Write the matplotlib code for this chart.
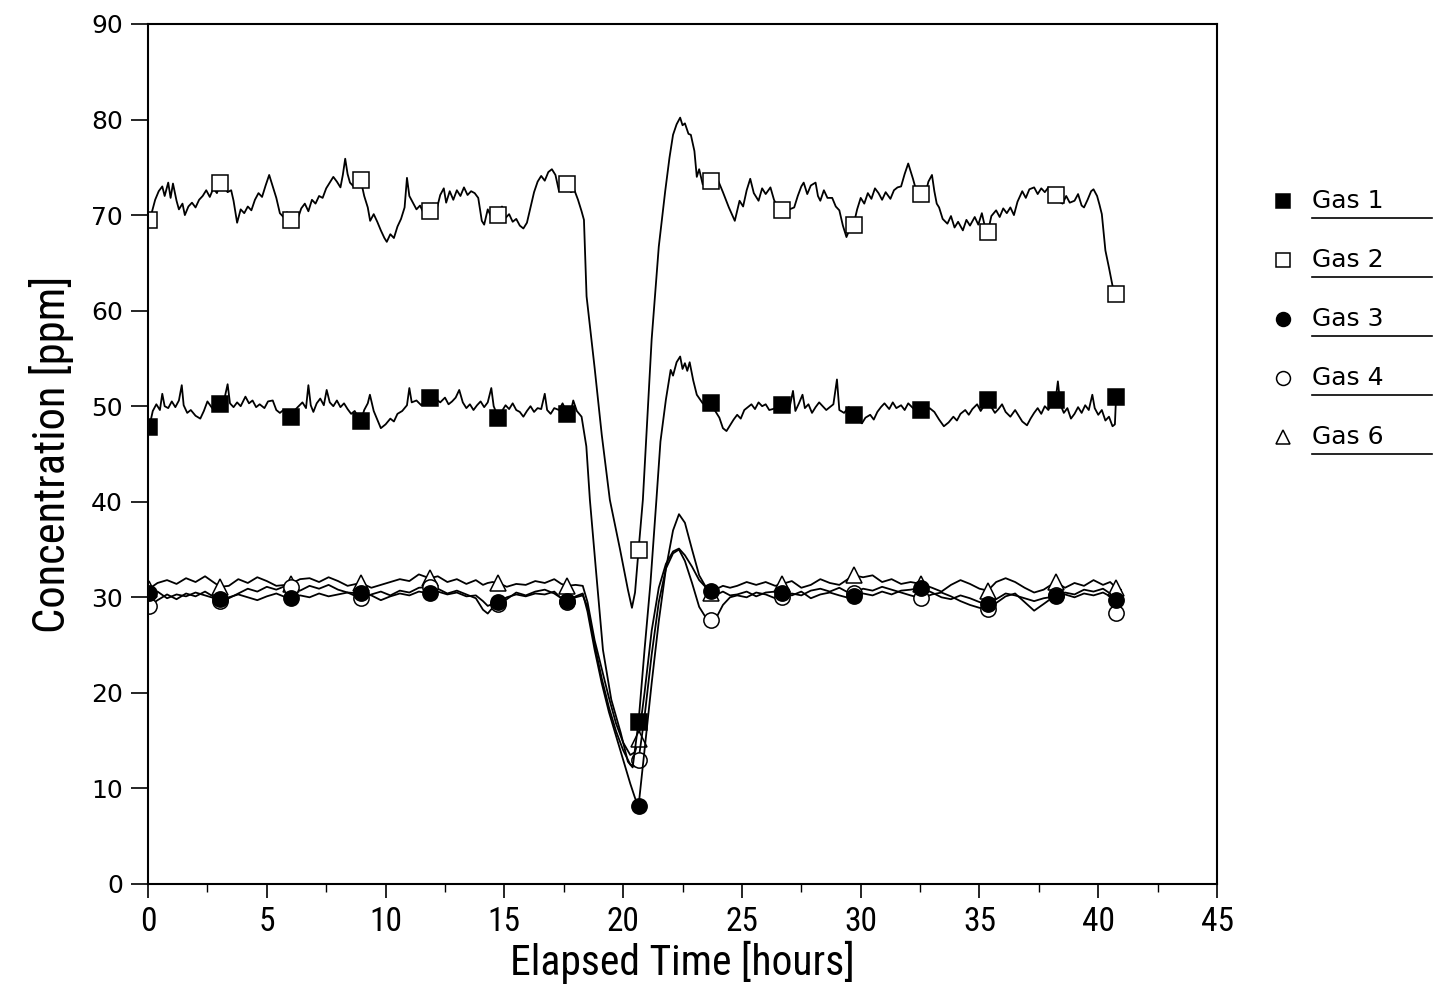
import matplotlib
matplotlib.use('Agg')
import matplotlib.pyplot as plt
from matplotlib.lines import Line2D
from matplotlib import font_manager
import numpy as np

# times (hours) where the symbols sit on every curve
MARK_T = [0.05, 3.05, 6.0, 8.95, 11.85, 14.75, 17.65, 20.65, 23.7, 26.7,
          29.7, 32.55, 35.35, 38.2, 40.75]

# Gas 1 (t, ppm)
gas1 = [
    (0.05, 47.8), (0.2, 49.5), (0.35, 50.2), (0.5, 49.6), (0.6, 51.3), (0.7, 50.0), (0.85, 49.8),
    (1.0, 50.5), (1.15, 49.9), (1.3, 50.6), (1.42, 52.2), (1.5, 50.1), (1.65, 49.3), (1.8, 49.6),
    (2.0, 49.0), (2.2, 48.7), (2.35, 49.5), (2.5, 50.5), (2.7, 49.8), (2.9, 50.4), (3.05, 50.2),
    (3.2, 50.6), (3.35, 52.3), (3.45, 50.3), (3.6, 49.9), (3.75, 50.4), (3.9, 50.0), (4.1, 51.0),
    (4.25, 50.3), (4.4, 50.6), (4.55, 49.9), (4.7, 50.2), (4.9, 49.8), (5.05, 50.5), (5.25, 50.6),
    (5.4, 49.6), (5.55, 49.3), (5.7, 49.6), (5.85, 49.1), (6.0, 48.9), (6.15, 49.5), (6.3, 49.9),
    (6.5, 50.4), (6.65, 49.8), (6.75, 52.2), (6.85, 50.1), (6.96, 49.4), (7.1, 50.3), (7.25, 50.8),
    (7.4, 50.1), (7.52, 51.7), (7.65, 50.4), (7.8, 50.0), (7.95, 50.6), (8.1, 49.9), (8.25, 50.3),
    (8.4, 49.7), (8.55, 49.2), (8.7, 49.5), (8.95, 48.4), (9.1, 49.6), (9.25, 50.3), (9.34, 51.2),
    (9.5, 49.5), (9.65, 48.6), (9.8, 47.7), (10.0, 48.1), (10.2, 48.7), (10.35, 48.4), (10.5, 49.2),
    (10.7, 49.5), (10.9, 50.1), (11.0, 51.9), (11.1, 50.4), (11.3, 50.6), (11.5, 50.1), (11.7, 50.8),
    (11.85, 50.9), (12.0, 50.3), (12.15, 50.7), (12.3, 50.4), (12.5, 50.9), (12.65, 50.2), (12.8, 50.5),
    (12.95, 50.9), (13.1, 51.7), (13.25, 50.4), (13.4, 49.8), (13.55, 50.2), (13.7, 49.6), (13.85, 50.1),
    (14.0, 50.5), (14.15, 49.9), (14.3, 50.4), (14.45, 51.9), (14.55, 50.0), (14.75, 48.8), (14.9, 49.5),
    (15.05, 50.1), (15.2, 49.7), (15.35, 50.3), (15.5, 49.6), (15.65, 49.4), (15.8, 48.9), (15.95, 49.5),
    (16.1, 50.0), (16.25, 49.4), (16.4, 49.8), (16.55, 49.7), (16.7, 51.3), (16.8, 49.6), (16.95, 49.2),
    (17.1, 49.8), (17.3, 49.6), (17.45, 50.3), (17.65, 49.2), (17.8, 49.5), (17.9, 50.6), (18.05, 49.5),
    (18.25, 48.9), (18.45, 45.8), (18.6, 40.2), (18.85, 33.0), (19.15, 24.5), (19.5, 19.3), (19.9, 15.8),
    (20.2, 12.8), (20.4, 12.2), (20.65, 17.0), (20.9, 24.5), (21.15, 31.5), (21.4, 40.2), (21.57, 46.3),
    (21.8, 50.7), (22.0, 53.8), (22.1, 53.2), (22.25, 54.6), (22.4, 55.2), (22.5, 53.9), (22.6, 54.5),
    (22.7, 53.7), (22.8, 54.6), (22.95, 52.7), (23.1, 51.2), (23.35, 50.3), (23.55, 50.1), (23.7, 50.3),
    (23.85, 49.6), (24.05, 48.8), (24.2, 47.7), (24.35, 47.4), (24.5, 48.0), (24.65, 48.6), (24.8, 49.1),
    (24.95, 48.7), (25.1, 49.6), (25.25, 49.9), (25.4, 50.2), (25.55, 49.7), (25.7, 50.4), (25.85, 50.0),
    (26.0, 50.2), (26.15, 49.6), (26.3, 49.7), (26.5, 49.9), (26.7, 50.1), (26.85, 50.5), (27.0, 49.8),
    (27.15, 51.6), (27.25, 49.5), (27.4, 50.3), (27.55, 51.2), (27.65, 49.8), (27.8, 50.2), (27.95, 49.3),
    (28.1, 49.9), (28.25, 50.4), (28.4, 50.0), (28.55, 49.6), (28.7, 49.9), (28.85, 50.2), (29.0, 52.8),
    (29.1, 49.6), (29.3, 49.3), (29.5, 49.9), (29.7, 49.1), (29.9, 48.7), (30.05, 48.2), (30.2, 48.8),
    (30.4, 49.1), (30.55, 48.6), (30.7, 49.4), (30.85, 49.9), (31.0, 50.3), (31.2, 49.7), (31.35, 50.4),
    (31.5, 49.8), (31.7, 50.1), (31.85, 49.6), (32.0, 50.3), (32.2, 49.8), (32.4, 50.0), (32.55, 49.6),
    (32.7, 49.3), (32.9, 49.8), (33.1, 49.4), (33.3, 48.6), (33.5, 47.9), (33.7, 48.3), (33.9, 48.9),
    (34.05, 48.5), (34.2, 49.2), (34.4, 49.6), (34.55, 49.1), (34.7, 49.7), (34.9, 50.2), (35.05, 49.5),
    (35.2, 50.1), (35.35, 50.6), (35.5, 49.9), (35.65, 49.3), (35.8, 49.7), (35.95, 50.2), (36.1, 49.4),
    (36.3, 48.9), (36.5, 49.6), (36.65, 49.0), (36.8, 48.4), (37.0, 48.0), (37.15, 48.7), (37.3, 49.3),
    (37.45, 49.8), (37.6, 49.2), (37.75, 50.0), (37.9, 49.6), (38.05, 50.4), (38.2, 50.6), (38.3, 52.6),
    (38.4, 50.2), (38.55, 49.3), (38.7, 49.8), (38.85, 48.7), (39.0, 49.2), (39.15, 49.9), (39.3, 49.3),
    (39.45, 50.1), (39.6, 49.6), (39.75, 51.2), (39.85, 49.8), (40.0, 49.1), (40.15, 49.6), (40.3, 48.5),
    (40.45, 48.9), (40.6, 47.9), (40.7, 48.1), (40.75, 51.0),
]

# Gas 2 (t, ppm)
gas2 = [
    (0.05, 69.5), (0.15, 70.2), (0.3, 71.6), (0.45, 72.5), (0.6, 73.0), (0.7, 72.0), (0.85, 73.4),
    (0.95, 71.8), (1.05, 73.3), (1.2, 71.5), (1.3, 70.6), (1.45, 71.2), (1.55, 70.0), (1.7, 70.9),
    (1.85, 71.3), (2.0, 70.8), (2.15, 71.6), (2.3, 72.0), (2.45, 72.6), (2.6, 71.9), (2.75, 72.8),
    (2.9, 72.3), (3.05, 73.4), (3.2, 73.0), (3.35, 72.4), (3.5, 72.6), (3.6, 71.5), (3.75, 69.2),
    (3.9, 70.6), (4.05, 70.2), (4.2, 70.9), (4.35, 70.5), (4.5, 71.6), (4.65, 72.3), (4.8, 71.9),
    (4.95, 73.1), (5.1, 74.2), (5.25, 73.0), (5.4, 71.8), (5.55, 70.2), (5.7, 69.8), (5.85, 70.3),
    (6.0, 69.5), (6.15, 69.9), (6.3, 69.6), (6.45, 70.7), (6.6, 71.2), (6.75, 70.4), (6.9, 71.6),
    (7.05, 71.2), (7.2, 72.0), (7.35, 71.8), (7.5, 72.8), (7.65, 73.4), (7.8, 74.0), (7.95, 73.5),
    (8.1, 72.9), (8.2, 74.2), (8.3, 75.9), (8.4, 74.3), (8.5, 73.4), (8.65, 73.0), (8.8, 74.0),
    (8.95, 73.7), (9.1, 72.0), (9.25, 70.8), (9.35, 69.4), (9.5, 70.1), (9.65, 69.3), (9.8, 68.4),
    (9.95, 67.6), (10.05, 67.2), (10.2, 68.0), (10.35, 67.6), (10.5, 68.8), (10.65, 69.6), (10.8, 70.8),
    (10.9, 73.9), (11.0, 72.0), (11.15, 71.3), (11.3, 70.6), (11.45, 71.0), (11.6, 70.2), (11.75, 70.9),
    (11.85, 70.4), (12.0, 71.2), (12.15, 70.6), (12.3, 72.1), (12.45, 72.8), (12.55, 71.3), (12.7, 72.5),
    (12.85, 71.6), (13.0, 72.6), (13.15, 72.0), (13.3, 72.9), (13.45, 72.1), (13.6, 72.5), (13.75, 72.3),
    (13.9, 71.8), (14.05, 69.4), (14.15, 69.0), (14.3, 70.6), (14.45, 69.8), (14.6, 70.5), (14.75, 70.0),
    (14.9, 70.9), (15.05, 69.7), (15.2, 70.1), (15.35, 69.3), (15.5, 69.6), (15.65, 68.9), (15.8, 68.6),
    (15.95, 69.2), (16.1, 70.8), (16.25, 72.4), (16.4, 73.5), (16.55, 74.1), (16.7, 73.6), (16.85, 74.5),
    (17.0, 74.8), (17.15, 74.2), (17.3, 72.5), (17.45, 73.6), (17.65, 73.3), (17.8, 72.4), (17.95, 72.6),
    (18.1, 71.6), (18.25, 70.4), (18.35, 69.5), (18.46, 61.5), (18.8, 54.0), (19.1, 47.0), (19.44, 40.2),
    (19.87, 35.0), (20.2, 30.8), (20.37, 28.9), (20.5, 30.5), (20.65, 35.0), (20.83, 40.2), (21.0, 48.0),
    (21.2, 57.0), (21.5, 66.7), (21.77, 72.5), (21.95, 76.0), (22.1, 78.4), (22.25, 79.5), (22.4, 80.2),
    (22.5, 79.4), (22.6, 79.6), (22.75, 78.5), (22.85, 78.4), (23.0, 76.7), (23.1, 74.0), (23.2, 74.8),
    (23.35, 73.2), (23.5, 74.0), (23.7, 73.6), (23.85, 73.0), (24.0, 73.6), (24.2, 72.4), (24.45, 70.8),
    (24.7, 69.4), (24.9, 71.5), (25.05, 70.9), (25.2, 72.6), (25.35, 73.8), (25.5, 72.3), (25.7, 71.5),
    (25.85, 72.8), (26.0, 72.2), (26.2, 72.9), (26.35, 71.6), (26.5, 70.8), (26.7, 70.5), (26.85, 71.2),
    (27.0, 70.6), (27.2, 70.8), (27.35, 72.0), (27.5, 73.0), (27.6, 73.4), (27.75, 72.2), (27.9, 73.1),
    (28.1, 73.4), (28.2, 72.0), (28.3, 71.5), (28.45, 72.6), (28.6, 71.8), (28.8, 71.8), (28.95, 70.9),
    (29.1, 70.5), (29.25, 68.9), (29.4, 67.7), (29.55, 68.6), (29.7, 69.0), (29.85, 70.6), (30.0, 71.8),
    (30.15, 71.2), (30.3, 72.3), (30.45, 71.7), (30.6, 72.8), (30.75, 72.3), (30.9, 71.6), (31.05, 72.4),
    (31.25, 71.7), (31.4, 72.6), (31.55, 72.9), (31.7, 73.0), (31.85, 74.3), (32.0, 75.4), (32.1, 74.6),
    (32.2, 73.8), (32.3, 72.9), (32.4, 71.8), (32.55, 72.2), (32.7, 72.0), (32.85, 73.5), (33.0, 74.2),
    (33.1, 72.5), (33.2, 71.2), (33.3, 70.8), (33.45, 69.6), (33.65, 69.1), (33.8, 69.9), (33.95, 68.7),
    (34.1, 69.3), (34.3, 68.4), (34.45, 69.5), (34.6, 68.9), (34.8, 69.8), (34.95, 69.0), (35.1, 70.2),
    (35.2, 69.1), (35.35, 68.2), (35.5, 69.9), (35.7, 70.5), (35.85, 69.8), (36.0, 70.7), (36.15, 70.2),
    (36.3, 70.8), (36.45, 70.0), (36.6, 71.4), (36.8, 72.5), (36.95, 71.8), (37.1, 72.7), (37.3, 72.9),
    (37.45, 72.2), (37.6, 72.8), (37.75, 72.4), (37.9, 72.9), (38.05, 72.5), (38.2, 72.1), (38.35, 71.4),
    (38.5, 71.2), (38.65, 72.0), (38.8, 71.3), (39.0, 71.5), (39.15, 72.2), (39.3, 71.0), (39.4, 70.8),
    (39.55, 71.6), (39.7, 72.5), (39.8, 72.7), (39.95, 72.0), (40.05, 71.1), (40.15, 70.1), (40.3, 66.3),
    (40.45, 64.5), (40.6, 62.6), (40.75, 61.7),
]

# common time grid for gas 3, 4 and 6
t_low = [
    0.05, 0.4, 0.8, 1.2, 1.6, 2.0, 2.4, 2.8, 3.05, 3.4,
    3.8, 4.2, 4.6, 5.0, 5.4, 5.8, 6.0, 6.4, 6.8, 7.2,
    7.6, 8.0, 8.4, 8.95, 9.4, 9.8, 10.2, 10.6, 11.0, 11.4,
    11.85, 12.2, 12.6, 13.0, 13.4, 13.8, 14.1, 14.3, 14.5, 14.75,
    15.1, 15.5, 15.9, 16.3, 16.7, 17.1, 17.4, 17.65, 18.0, 18.3,
    18.5, 18.8, 19.1, 19.4, 19.7, 20.0, 20.3, 20.5, 20.65, 20.9,
    21.2, 21.5, 21.8, 22.1, 22.35, 22.6, 22.9, 23.2, 23.5, 23.7,
    23.95, 24.2, 24.5,
    24.8, 25.2, 25.6, 26.0, 26.4, 26.7, 27.1, 27.5, 27.9, 28.3,
    28.7, 29.1, 29.4, 29.7, 30.1, 30.5, 30.9, 31.3, 31.7, 32.1,
    32.55, 33.0, 33.4, 33.8, 34.2, 34.6, 35.0, 35.35, 35.7, 36.1,
    36.5, 36.9, 37.3, 37.7, 38.2, 38.6, 39.0, 39.4, 39.8, 40.2,
    40.5, 40.75, 40.95,
]

gas3 = [
    30.5, 30.6, 29.9, 30.3, 30.1, 30.5, 30.2, 29.9, 29.8, 30.0,
    30.3, 30.0, 29.7, 30.1, 30.4, 30.0, 29.9, 30.2, 30.0, 30.4,
    30.1, 30.3, 30.5, 30.4, 30.2, 29.7, 30.1, 30.4, 30.2, 30.6,
    30.4, 30.6, 30.3, 30.5, 30.1, 30.2, 29.6, 29.1, 29.3, 29.5,
    30.0, 30.3, 30.1, 30.4, 30.3, 30.6, 29.9, 29.6, 30.1, 30.4,
    28.5, 24.5, 21.0, 18.0, 15.5, 13.0, 10.5, 9.0, 8.2, 14.0,
    21.0, 27.5, 33.0, 37.0, 38.7, 37.8, 35.0, 32.3, 31.0, 30.7,
    30.3, 30.6, 30.2,
    30.3, 30.6, 30.1, 30.5, 30.6, 30.5, 30.2, 30.6, 29.9, 30.3,
    30.5, 30.2, 30.0, 30.1, 30.4, 30.2, 30.6, 30.3, 30.7, 30.8,
    31.0, 30.5, 30.0, 29.8, 30.2, 29.9, 29.5, 29.3, 29.8, 30.4,
    30.2, 29.9, 29.6, 29.9, 30.1, 30.3, 30.0, 30.4, 30.2, 30.5,
    30.1, 29.7, 29.8,
]

gas4 = [
    29.1, 29.7, 30.3, 29.8, 30.4, 30.1, 30.6, 30.0, 29.6, 29.9,
    30.4, 30.9, 30.6, 31.1, 30.8, 31.2, 31.1, 30.7, 31.2, 30.9,
    31.3, 30.8, 30.5, 29.9, 30.3, 30.6, 30.2, 30.7, 30.5, 31.0,
    31.1, 30.9, 30.4, 30.7, 30.3, 29.9, 28.7, 28.3, 28.9, 29.3,
    29.8, 30.5, 30.2, 30.6, 30.8, 30.4, 29.9, 29.5, 30.0, 30.2,
    29.0, 25.0, 21.5, 18.5, 16.0, 14.0, 12.5, 12.3, 13.0, 17.5,
    24.0, 29.5, 33.0, 34.6, 35.0, 33.8, 31.5, 29.0, 27.8, 27.6,
    28.0, 29.2, 30.0,
    30.2, 30.0, 30.5, 30.3, 29.9, 30.0, 30.4, 30.2, 30.7, 30.9,
    30.6, 31.0, 30.6, 30.5, 30.9, 30.7, 31.1, 30.8, 30.5, 30.2,
    29.9, 30.3, 30.5, 30.1, 29.6, 29.2, 28.9, 28.8, 29.4, 30.1,
    30.4, 29.5, 28.6, 29.3, 30.2, 30.5, 30.3, 30.8, 30.6, 30.9,
    30.4, 28.4, 28.6,
]

gas6 = [
    30.9, 31.5, 31.8, 31.4, 32.0, 31.6, 32.2, 31.5, 31.1, 31.2,
    31.9, 31.5, 32.1, 31.7, 31.2, 31.3, 31.4, 31.9, 32.0, 31.6,
    32.1, 31.7, 31.2, 31.5, 31.0, 31.3, 31.6, 31.9, 31.7, 32.4,
    32.0, 32.2, 31.6, 31.9, 31.4, 31.8, 31.3, 31.5, 31.6, 31.5,
    31.1, 31.4, 31.3, 31.7, 31.5, 31.9, 31.4, 31.2, 31.3, 31.2,
    29.5, 25.5, 22.5, 19.5, 16.8, 14.8, 13.5, 13.8, 15.2, 20.0,
    26.5, 31.0, 33.5, 34.8, 35.1, 34.4, 33.2, 31.8, 31.0, 30.5,
    30.9, 31.2, 31.0,
    31.2, 31.6, 31.3, 31.6, 31.2, 31.4, 31.7, 31.0, 31.3, 31.9,
    31.5, 31.3, 31.8, 32.3, 32.1, 32.3, 31.6, 31.9, 31.4, 31.6,
    31.4, 31.0, 30.6, 31.3, 31.8, 31.4, 30.9, 30.7, 31.6, 32.0,
    31.6, 31.0, 30.5, 30.8, 31.6, 31.0, 31.5, 31.2, 31.8, 31.3,
    31.6, 31.0, 30.8,
]

labels = ['Gas 1', 'Gas 2', 'Gas 3', 'Gas 4', 'Gas 6']

# condensed face for axis labels if there is one
installed = {f.name for f in font_manager.fontManager.ttflist}
narrow = [f for f in ['DejaVu Sans Condensed', 'Liberation Sans Narrow', 'Roboto Condensed']
          if f in installed] + ['DejaVu Sans']
cond = narrow[0] != 'DejaVu Sans'

fig = plt.figure(figsize=(14.33, 9.91), dpi=100)
ax = fig.add_axes([0.1033, 0.108, 0.746, 0.8678])


def mark_idx(t):
    t = np.asarray(t)
    return [int(np.argmin(np.abs(t - m))) for m in MARK_T]


series = [
    (t_low, gas6, '^', 'white'),
    (t_low, gas4, 'o', 'white'),
    (t_low, gas3, 'o', 'black'),
]
g1 = np.array(gas1).T
g2 = np.array(gas2).T
series += [(g2[0], g2[1], 's', 'white'), (g1[0], g1[1], 's', 'black')]

for t, v, m, fc in series:
    ax.plot(t, v, color='black', lw=1.3, marker=m, ms=11, mfc=fc, mec='black',
            mew=1.1, markevery=mark_idx(t))

ax.set_xlim(0, 45)
ax.set_ylim(0, 90)
ax.set_xticks(np.arange(0, 46, 5))
ax.set_xticks(np.arange(2.5, 45, 5), minor=True)
ax.set_yticks(np.arange(0, 91, 10))
ax.tick_params(axis='x', which='major', direction='out', length=10, width=1.2, pad=6)
ax.tick_params(axis='x', which='minor', direction='out', length=6, width=1.0)
ax.tick_params(axis='y', direction='out', length=12, width=1.2, pad=6)
for s in ax.spines.values():
    s.set_linewidth(1.5)

for lab in ax.get_xticklabels():
    lab.set_fontfamily(narrow)
    lab.set_fontsize(24 if cond else 20)
for lab in ax.get_yticklabels():
    lab.set_fontfamily('DejaVu Sans')
    lab.set_fontsize(18)

lab_size = 30 if cond else 26
ax.set_xlabel('Elapsed Time [hours]', family=narrow, fontsize=lab_size, labelpad=2)
ax.set_ylabel('Concentration [ppm]', family=narrow, fontsize=32 if cond else 26, labelpad=12)

# legend at right with underlined labels
leg_order = [(labels[0], 's', 'black'), (labels[1], 's', 'white'), (labels[2], 'o', 'black'),
             (labels[3], 'o', 'white'), (labels[4], '^', 'white')]
y0 = 0.797
for i, (name, m, fc) in enumerate(leg_order):
    y = y0 - i * 0.0595
    fig.add_artist(Line2D([0.8953], [y], marker=m, ms=10, mfc=fc, mec='black', mew=1.1,
                          transform=fig.transFigure, color='black', lw=0))
    fig.text(0.9156, y, name, fontsize=18, va='center', ha='left', family='DejaVu Sans')
    fig.add_artist(Line2D([0.9156, 0.999], [y - 0.017, y - 0.017], color='black', lw=1.2,
                          transform=fig.transFigure))

fig.savefig('out.png', dpi=100)
